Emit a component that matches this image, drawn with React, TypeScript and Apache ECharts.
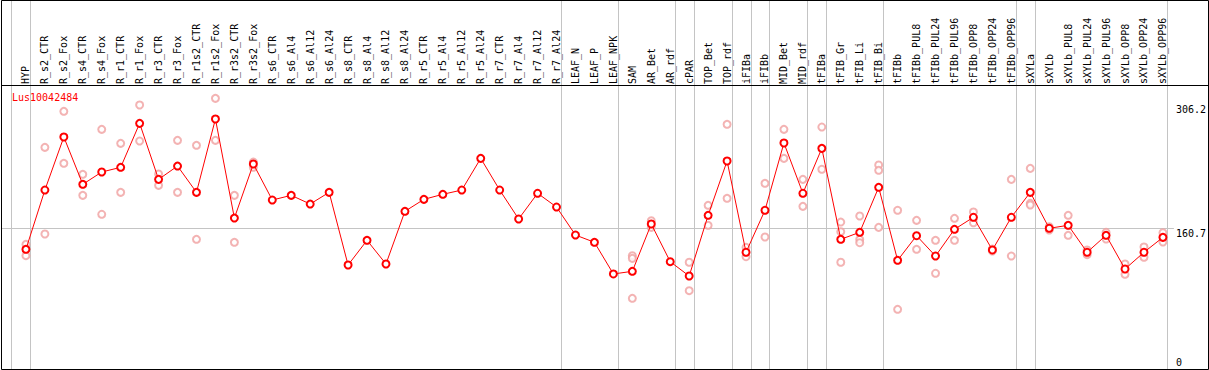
import React, { useEffect, useRef } from "react";
import * as echarts from "echarts";

const geneId = "Lus10042484";

const categories = [
  "HYP", "R_s2_CTR", "R_s2_Fox", "R_s4_CTR", "R_s4_Fox", "R_r1_CTR", "R_r1_Fox", "R_r3_CTR", "R_r3_Fox",
  "R_r1s2_CTR", "R_r1s2_Fox", "R_r3s2_CTR", "R_r3s2_Fox", "R_s6_CTR", "R_s6_Al4", "R_s6_Al12", "R_s6_Al24",
  "R_s8_CTR", "R_s8_Al4", "R_s8_Al12", "R_s8_Al24", "R_r5_CTR", "R_r5_Al4", "R_r5_Al12", "R_r5_Al24",
  "R_r7_CTR", "R_r7_Al4", "R_r7_Al12", "R_r7_Al24", "LEAF_N", "LEAF_P", "LEAF_NPK", "SAM", "AR_Bet", "AR_rdf",
  "cPAR", "TOP_Bet", "TOP_rdf", "iFIBa", "iFIBb", "MID_Bet", "MID_rdf", "tFIBa", "tFIB_Gr", "tFIB_Li", "tFIB_Bi",
  "tFIBb", "tFIBb_PUL8", "tFIBb_PUL24", "tFIBb_PUL96", "tFIBb_OPP8", "tFIBb_OPP24", "tFIBb_OPP96",
  "sXYLa", "sXYLb", "sXYLb_PUL8", "sXYLb_PUL24", "sXYLb_PUL96", "sXYLb_OPP8", "sXYLb_OPP24", "sXYLb_OPP96",
];

const meanValues = [
  136.2, 205.6, 267.7, 212.3, 226.7, 232.2, 283.7, 218.1, 233.7,
  202.9, 288.8, 172.8, 236.1, 193.9, 199.4, 189.2, 202.9,
  117.8, 146.7, 119.0, 180.7, 194.7, 200.6, 205.6, 242.7,
  205.6, 171.7, 201.8, 185.7, 152.9, 144.4, 107.3, 110.4, 165.8, 121.7,
  104.9, 176.0, 239.6, 132.7, 181.9, 260.7, 201.8, 254.4, 147.9, 156.1, 208.8,
  123.3, 152.1, 128.3, 159.6, 173.7, 135.4, 173.7,
  202.9, 160.8, 164.3, 132.7, 152.6, 113.1, 132.7, 150.2,
];

const replicateValues: number[][] = [
  [142.0, 128.7], [255.6, 154.1], [297.8, 236.9], [224.0, 199.4], [276.7, 177.2], [260.3, 202.9], [305.2, 263.0],
  [224.4, 211.1], [263.8, 202.9], [258.0, 147.9], [313.0, 263.8], [199.4, 144.4], [238.4, 232.2],
  [], [], [], [], [], [], [], [], [], [], [], [], [], [], [], [], [], [], [],
  [128.7, 125.6, 78.8], [169.7, 161.9], [],
  [121.0, 87.7], [187.7, 164.3], [282.6, 195.9], [138.5, 127.5], [213.5, 150.6], [276.7, 242.7], [218.1, 186.5],
  [279.4, 229.9], [168.1, 156.8, 121.0], [175.2, 147.9, 143.9], [234.9, 228.7, 161.9],
  [181.9, 65.9], [170.1, 136.2], [146.7, 108.1], [172.5, 146.7], [179.9, 167.3], [136.5, 134.2], [218.1, 128.3],
  [231.0, 190.0, 188.1], [162.6, 158.8], [176.0, 152.6], [135.4, 129.9], [156.1, 148.2], [119.0, 106.9],
  [138.9, 126.8], [155.6, 144.7],
];

// a separator follows each of these category indices (-1 = before the first)
const groupBreaksAfter = [-1, 0, 28, 31, 34, 35, 37, 38, 39, 41, 42, 45, 52, 53, 60];
const referenceValue = 160.7;
const yTopLabels = [160.7, 306.2];
const yBottomLabels = [0];

export default function App() {
  const ref = useRef<HTMLDivElement>(null);
  useEffect(() => {
    const chart = echarts.init(ref.current!, null, { renderer: "svg" });
    const font = "'DejaVu Sans Mono', monospace";
    const meanData = meanValues.map((v, i) => [i, v]);
    const repData: number[][] = [];
    replicateValues.forEach((arr, i) => arr.forEach((v) => repData.push([i, v])));
    const yMin = -4;
    const yMax = 427;
    const option = {
      animation: false,
      backgroundColor: "#fff",
      title: {
        text: geneId,
        left: 7,
        top: 87,
        textStyle: { color: "#ff0000", fontSize: 10, fontFamily: font, fontWeight: "normal" },
      },
      grid: { left: 2, right: 32, top: 1, bottom: 1, containLabel: false },
      xAxis: {
        type: "value",
        position: "top",
        offset: -84,
        min: -1.263,
        max: 60.579,
        axisLine: { show: false },
        axisTick: { show: false },
        splitLine: { show: false },
        axisLabel: {
          customValues: categories.map((_, i) => i),
          formatter: (v: number) => categories[Math.round(v)] ?? "",
          rotate: 90,
          margin: 1,
          fontSize: 10,
          fontFamily: font,
          color: "#000",
          hideOverlap: false,
        },
      },
      yAxis: [
        {
          type: "value",
          position: "right",
          min: yMin,
          max: yMax,
          axisLine: { show: false },
          axisTick: { show: false },
          splitLine: { show: false },
          axisLabel: {
            customValues: yTopLabels,
            formatter: (v: number) => v.toFixed(1),
            verticalAlign: "top",
            margin: 2,
            fontSize: 10,
            lineHeight: 10,
            fontFamily: font,
            color: "#000",
          },
        },
        {
          type: "value",
          position: "right",
          min: yMin,
          max: yMax,
          axisLine: { show: false },
          axisTick: { show: false },
          splitLine: { show: false },
          axisLabel: {
            customValues: yBottomLabels,
            formatter: (v: number) => String(v),
            verticalAlign: "bottom",
            margin: 2,
            fontSize: 10,
            lineHeight: 7,
            fontFamily: font,
            color: "#000",
          },
        },
      ],
      series: [
        {
          type: "scatter",
          z: 2,
          data: repData,
          symbol: "emptyCircle",
          symbolSize: 7,
          itemStyle: { color: "#f0a0a0", borderColor: "#f0a0a0", borderWidth: 1 },
          silent: true,
          markLine: {
            z: 1,
            silent: true,
            symbol: ["none", "none"],
            label: { show: false },
            lineStyle: { color: "#c4c4c4", width: 1, type: "solid" },
            data: [
              ...groupBreaksAfter.map((b) => ({ xAxis: b + 0.25 })),
              { yAxis: referenceValue },
            ],
          },
        },
        {
          type: "line",
          z: 3,
          data: meanData,
          symbol: "emptyCircle",
          symbolSize: 7,
          lineStyle: { color: "#ff0000", width: 1 },
          itemStyle: { color: "#ff0000", borderColor: "#ff0000", borderWidth: 1.2 },
          silent: true,
        },
      ],
      graphic: [
        {
          type: "rect",
          z: 100,
          silent: true,
          shape: { x: 1.5, y: 0.5, width: 1207, height: 369 },
          style: { fill: "none", stroke: "#000", lineWidth: 1 },
        },
        {
          type: "line",
          z: 100,
          silent: true,
          shape: { x1: 1.5, y1: 85.5, x2: 1208.5, y2: 85.5 },
          style: { stroke: "#000", lineWidth: 1 },
        },
      ],
    };
    chart.setOption(option as any);
    return () => chart.dispose();
  }, []);
  return (
    <div
      ref={ref}
      style={{ position: "fixed", left: 0, top: 0, width: 1209, height: 370, background: "#fff" }}
    />
  );
}
